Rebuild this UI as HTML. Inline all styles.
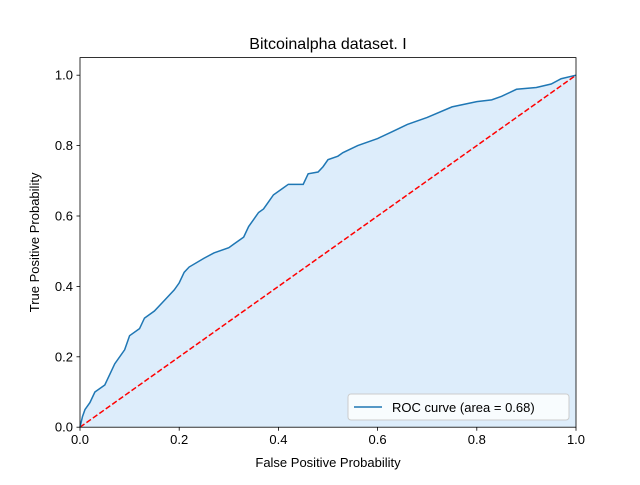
<!DOCTYPE html>
<html><head><meta charset="utf-8"><style>
body{margin:0;background:#fff;}
svg text{font-family:"Liberation Sans","DejaVu Sans",sans-serif;}
</style></head><body>
<svg id="chart" width="640" height="480" xmlns="http://www.w3.org/2000/svg">
<rect width="640" height="480" fill="#fff"/>
<g id="plot"></g>
</svg>
<script>
const fpr=[0,0.005,0.01,0.02,0.03,0.05,0.06,0.07,0.09,0.1,0.12,0.13,0.15,0.17,0.19,0.2,0.21,0.22,0.25,0.27,0.3,0.31,0.32,0.33,0.34,0.35,0.36,0.37,0.38,0.39,0.41,0.42,0.45,0.46,0.48,0.49,0.5,0.52,0.53,0.56,0.6,0.63,0.66,0.7,0.75,0.8,0.83,0.85,0.88,0.92,0.95,0.97,1];
const tpr=[0,0.03,0.05,0.07,0.1,0.12,0.15,0.18,0.22,0.26,0.28,0.31,0.33,0.36,0.39,0.41,0.44,0.455,0.48,0.495,0.51,0.52,0.53,0.54,0.57,0.59,0.61,0.62,0.64,0.66,0.68,0.69,0.69,0.72,0.725,0.74,0.76,0.77,0.78,0.8,0.82,0.84,0.86,0.88,0.91,0.925,0.93,0.94,0.96,0.965,0.975,0.99,1];
const xTicks=[0,0.2,0.4,0.6,0.8,1.0];
const yTicks=[0,0.2,0.4,0.6,0.8,1.0];
const NS="http://www.w3.org/2000/svg";
const L=80,R=576,T=57.6,B=427.2;
const sx=v=>L+v*(R-L);
const sy=v=>B-v/1.05*(B-T);
const g=document.getElementById('plot');
function mk(tag,attrs,parent){const e=document.createElementNS(NS,tag);for(const k in attrs)e.setAttribute(k,attrs[k]);(parent||g).appendChild(e);return e;}
let d='M'+sx(fpr[0])+','+sy(tpr[0]);
for(let i=1;i<fpr.length;i++)d+='L'+sx(fpr[i])+','+sy(tpr[i]);
const fill=mk('path',{d:d+'L'+sx(1)+','+sy(0)+'Z',fill:'#ddedfb'});


const diag=mk('line',{x1:sx(0),y1:sy(0),x2:sx(1),y2:sy(1),stroke:'#ff0000','stroke-width':1.5,'stroke-dasharray':'5.5,2.4'});


const roc=mk('path',{d:d,fill:'none',stroke:'#1f77b4','stroke-width':1.5});


const frame=mk('rect',{x:L,y:T,width:R-L,height:B-T,fill:'none',stroke:'#000','stroke-width':0.8});


xTicks.forEach(v=>{
  const t=mk('line',{x1:sx(v),x2:sx(v),y1:B,y2:B+3.5,stroke:'#000','stroke-width':0.8});
  
  
  const tx=mk('text',{x:sx(v),y:B+17,'font-size':13,'text-anchor':'middle'});
  tx.textContent=v.toFixed(1);
  
  
});
yTicks.forEach(v=>{
  const t=mk('line',{x1:L-3.5,x2:L,y1:sy(v),y2:sy(v),stroke:'#000','stroke-width':0.8});
  
  
  const tx=mk('text',{x:L-7,y:sy(v)+4.5,'font-size':13,'text-anchor':'end'});
  tx.textContent=v.toFixed(1);
  
  
});
const title=mk('text',{x:(L+R)/2,y:49,'font-size':16,'text-anchor':'middle'});
title.textContent='Bitcoinalpha dataset. I';


const xl=mk('text',{x:(L+R)/2,y:467,'font-size':13,'text-anchor':'middle'});
xl.textContent='False Positive Probability';


const yl=mk('text',{x:0,y:0,'font-size':13,'text-anchor':'middle',transform:'translate(39,'+((T+B)/2)+') rotate(-90)'});
yl.textContent='True Positive Probability';


const lg=mk('g',{});


mk('rect',{x:348,y:394,width:221,height:26,rx:3,fill:'#fff','fill-opacity':0.8,stroke:'#ccc','stroke-width':1},lg);
mk('line',{x1:354,x2:382,y1:407,y2:407,stroke:'#1f77b4','stroke-width':1.5},lg);
const lt=mk('text',{x:392,y:412,'font-size':13},lg);
lt.textContent='ROC curve (area = 0.68)';


</script>
</body></html>
